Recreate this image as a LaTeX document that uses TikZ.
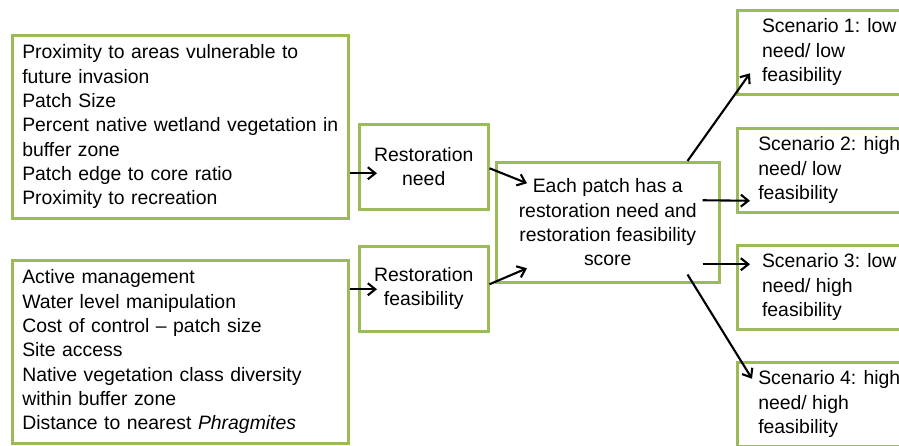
\documentclass[tikz,border=0pt]{standalone}
\usepackage{fontspec}
\setmainfont{Liberation Sans}
\usetikzlibrary{arrows.meta,calc}

\definecolor{boxgreen}{HTML}{9BBB59}

\tikzset{
  txt/.style={font=\fontsize{19.4pt}{24.3pt}\selectfont},
  box/.style={txt, draw=boxgreen, line width=2.5pt, fill=white, rectangle},
  listbox/.style={box, anchor=north west, align=left, text width=316pt,
    inner xsep=10pt, inner ysep=0pt, minimum height=183pt},
  midbox/.style={box, anchor=north west, align=center, inner sep=0pt,
    minimum width=129pt, minimum height=85pt},
  scenbox/.style={box, anchor=north west, align=left, inner sep=0pt,
    minimum width=184pt, minimum height=84pt},
  arr/.style={-{Straight Barb[length=7.5pt,width=12pt]}, line width=2.1pt, black},
}

\begin{document}
\begin{tikzpicture}[x=1pt, y=-1pt]
  \useasboundingbox (0,0) rectangle (899,445);
  \clip (0,0) rectangle (899,445);

  % input criteria
  \node[listbox] (A) at (11,34) {Proximity to areas vulnerable to\\
    future invasion\\
    Patch Size\\
    Percent native wetland vegetation in\\
    buffer zone\\
    Patch edge to core ratio\\
    Proximity to recreation};
  \node[listbox] (B) at (11,259) {Active management\\
    Water level manipulation\\
    Cost of control -- patch size\\
    Site access\\
    Native vegetation class diversity\\
    within buffer zone\\
    Distance to nearest \textit{Phragmites}};

  % intermediate scores
  \node[midbox] (need) at (358,123) {Restoration\\need};
  \node[midbox] (feas) at (358,245) {Restoration\\feasibility};

  % combined score
  \node[box, anchor=north west, align=center, inner sep=0pt,
        minimum width=223pt, minimum height=120pt] (C) at (495,161)
       {Each patch has a\\restoration need and\\restoration feasibility\\score};

  % outcome scenarios
  \node[scenbox] (S1) at (736,9)   {Scenario 1: low\\need/ low\\feasibility};
  \node[scenbox] (S2) at (736,127) {Scenario 2: high\\need/ low\\feasibility};
  \node[scenbox] (S3) at (736,244) {Scenario 3: low\\need/ high\\feasibility};
  \node[scenbox] (S4) at (736,361) {Scenario 4: high\\need/ high\\feasibility};

  % connectors
  \coordinate (t1) at ($(need.west)+(19,6.5)$);
  \coordinate (t2) at ($(feas.west)+(19,0.5)$);
  \draw[arr] (A.east |- t1) -- (t1);
  \draw[arr] (B.east |- t2) -- (t2);

  \draw[arr] ($(need.east)+(0,1.5)$) -- ($(C.west)+(32,-39)$);
  \draw[arr] ($(feas.east)+(0,-4.5)$) -- ($(C.west)+(32,46)$);

  \draw[arr] ($(C.north east)+(-33,0)$) -- ($(S1.west)+(14,21)$);
  \draw[arr] ($(C.east)+(-18,-22)$) -- ($(S2.west)+(14,30.5)$);
  \draw[arr] ($(C.east)+(-18,42)$) -- ($(S3.west)+(14,-23)$);
  \draw[arr] ($(C.south east)+(-33,-9)$) -- ($(S4.west)+(16,-25.5)$);
\end{tikzpicture}
\end{document}
